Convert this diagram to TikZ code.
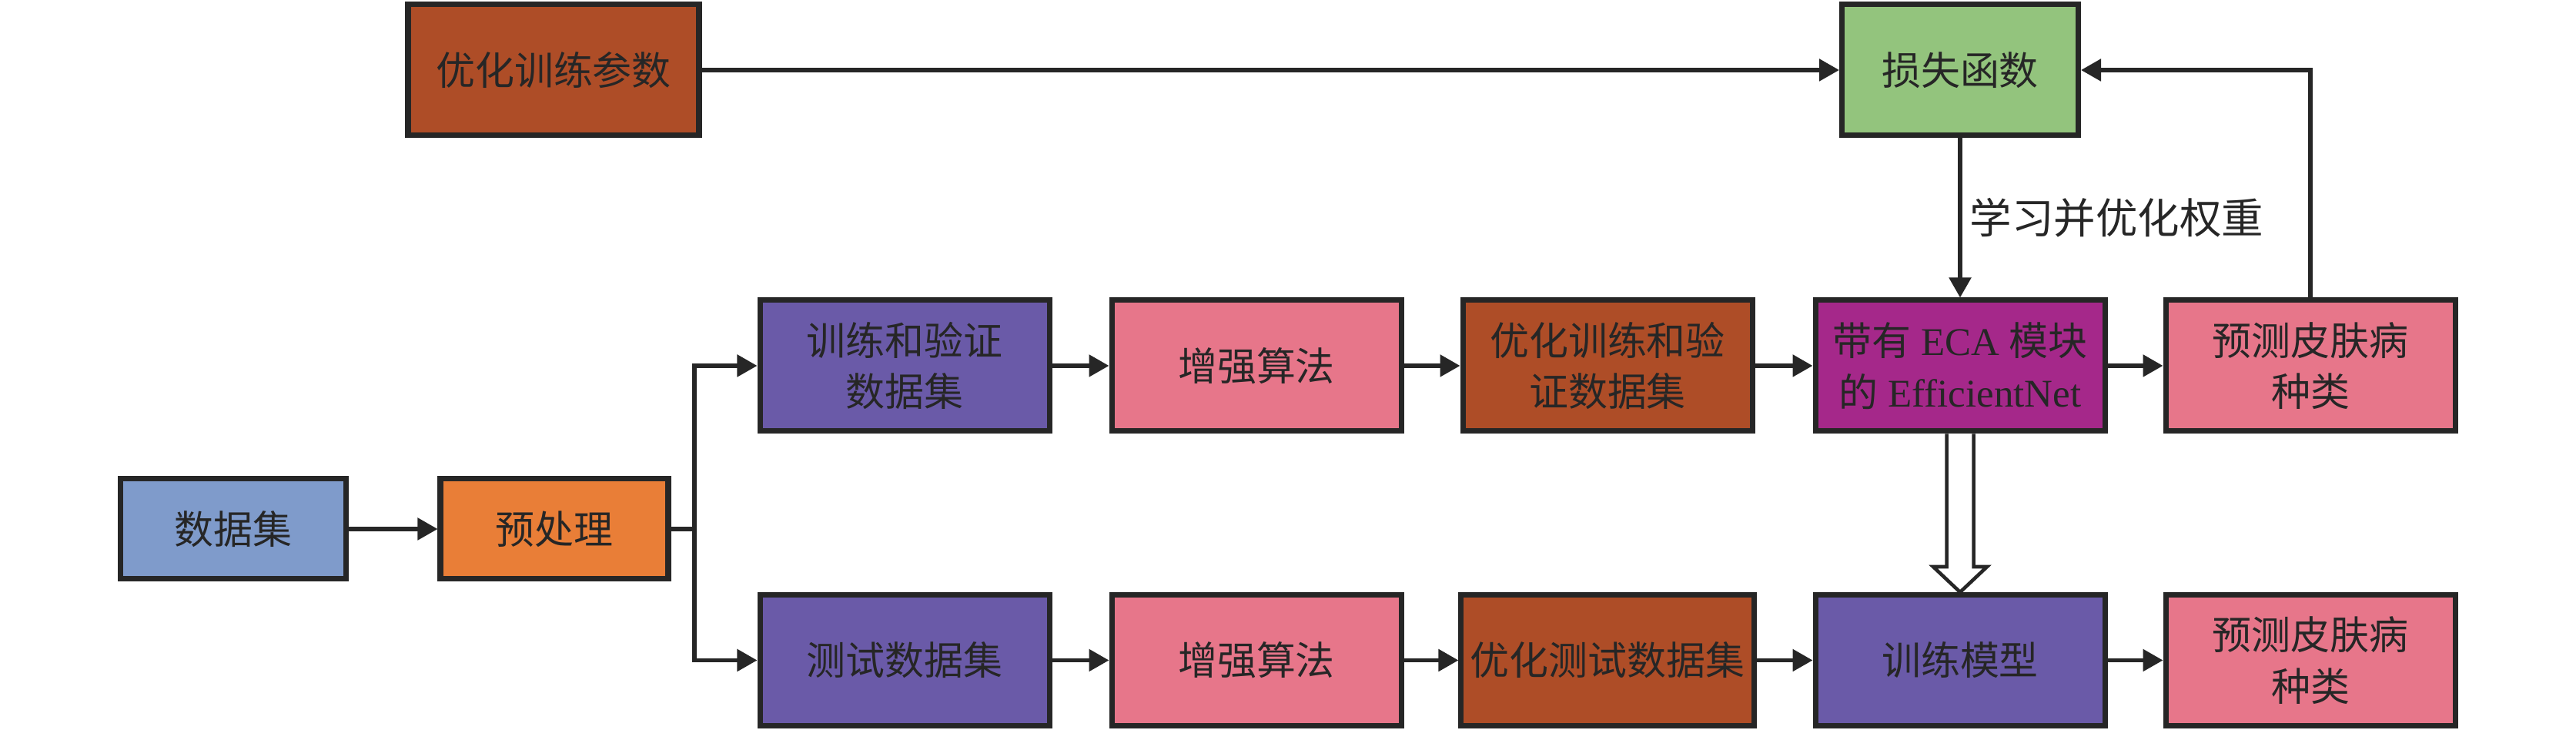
\documentclass[tikz,border=0pt]{standalone}
\usepackage{fontspec}
\setmainfont{Liberation Serif}
\newfontfamily\cjk{Noto Sans CJK SC}
\usetikzlibrary{arrows.meta}
\definecolor{rust}{RGB}{174,77,39}
\definecolor{leaf}{RGB}{147,196,125}
\definecolor{violet}{RGB}{106,90,168}
\definecolor{rose}{RGB}{231,118,138}
\definecolor{plum}{RGB}{165,40,138}
\definecolor{sky}{RGB}{127,155,203}
\definecolor{tangerine}{RGB}{233,126,55}
\begin{document}
\begin{tikzpicture}[
  box/.style={draw=black!85, line width=2pt, minimum width=3.76cm, minimum height=1.7cm,
    align=center, text=black!85, font=\fontsize{14.5}{19}\selectfont\cjk},
  e/.style={line width=1.5pt, draw=black!85, -{Triangle[length=2.6mm,width=2.8mm]}}
]
\useasboundingbox (0,0) rectangle (33.46,9.48);

% top: parameters and loss
\node[box, fill=rust, minimum width=3.78cm] (param) at (7.19,8.57) {优化训练参数};
\node[box, fill=leaf, minimum width=3.07cm] (loss) at (25.46,8.57) {损失函数};

% input
\node[box, fill=sky, minimum width=2.93cm, minimum height=1.3cm] (data) at (3.03,2.61) {数据集};
\node[box, fill=tangerine, minimum width=2.96cm, minimum height=1.3cm] (prep) at (7.20,2.61) {预处理};
\coordinate (split) at (9.02,2.61);

% training row
\node[box, fill=violet] (trainset) at (11.75,4.73) {训练和验证\\数据集};
\node[box, fill=rose] (augA) at (16.32,4.73) {增强算法};
\node[box, fill=rust] (optA) at (20.88,4.73) {优化训练和验\\证数据集};
\node[box, fill=plum, font=\fontsize{14.5}{19}\selectfont] (eca) at (25.46,4.73)
  {{\cjk 带有} ECA {\cjk 模块}\\{\cjk 的} EfficientNet};
\node[box, fill=rose] (predA) at (30.01,4.73) {预测皮肤病\\种类};

% test row
\node[box, fill=violet] (testset) at (11.75,0.905) {测试数据集};
\node[box, fill=rose] (augB) at (16.32,0.905) {增强算法};
\node[box, fill=rust] (optB) at (20.88,0.905) {优化测试数据集};
\node[box, fill=violet] (model) at (25.46,0.905) {训练模型};
\node[box, fill=rose] (predB) at (30.01,0.905) {预测皮肤病\\种类};

% connectors
\draw[e] (data) -- (prep);
\draw[line width=1.5pt, draw=black!85] (prep.east) -- (split);
\draw[e] (split) |- (trainset.west);
\draw[e] (split) |- (testset.west);
\draw[e] (trainset) -- (augA);
\draw[e] (augA) -- (optA);
\draw[e] (optA) -- (eca);
\draw[e] (eca) -- (predA);
\draw[e] (testset) -- (augB);
\draw[e] (augB) -- (optB);
\draw[e] (optB) -- (model);
\draw[e] (model) -- (predB);
\draw[e] (param) -- (loss);
\draw[e] (predA.north) |- (loss.east);
\draw[e] (loss) -- node[right=1mm, inner sep=0pt, text=black!85,
  font=\fontsize{15.5}{19}\selectfont\cjk] {学习并优化权重} (eca);

% hollow arrow to the trained model
\draw[line width=1.3pt, draw=black!85, line join=miter]
  ([xshift=-1.75mm]eca.south) -- ([shift={(-1.75mm,3.3mm)}]model.north)
  -- ([shift={(-3.5mm,3.3mm)}]model.north) -- (model.north)
  -- ([shift={(3.5mm,3.3mm)}]model.north) -- ([shift={(1.75mm,3.3mm)}]model.north)
  -- ([xshift=1.75mm]eca.south);

\end{tikzpicture}
\end{document}
